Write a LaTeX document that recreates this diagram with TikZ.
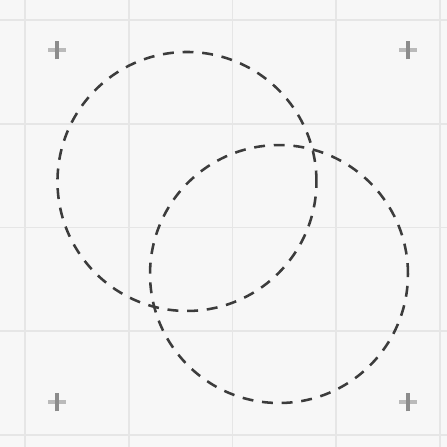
\documentclass[tikz,border=0pt]{standalone}
\usepackage{tikz}
\usepackage{xcolor}
\definecolor{bgfill}{HTML}{F7F7F7}
\definecolor{gridline}{HTML}{E6E6E6}
\definecolor{circline}{HTML}{3C3C3C}
\definecolor{markgray}{HTML}{8C8C8C}

\begin{document}
\begin{tikzpicture}[
    circ/.style={circline, line width=0.7pt, dash pattern=on 3pt off 2.4pt},
    markv/.style={markgray, line width=1.2pt},
    markh/.style={markgray!60, line width=0.9pt}]
  % background
  \fill[bgfill] (0,0) rectangle (4.308,4.308);
  \useasboundingbox (0,0) rectangle (4.308,4.308);
  % grid
  \draw[gridline, line width=0.45pt, step=1, shift={(0.241,0.116)}]
    (-0.241,-0.116) grid (4.067,4.192);
  % corner marks
  \foreach \x/\y in {0.549/3.827, 3.933/3.827, 0.549/0.434, 3.933/0.434}
  {
    \draw[markh] (\x-0.085,\y) -- (\x+0.085,\y);
    \draw[markv] (\x,\y-0.09) -- (\x,\y+0.09);
  }
  % circles
  \coordinate (upper) at (1.802,2.559);
  \coordinate (lower) at (2.689,1.667);
  \draw[circ] (upper) circle (1.248);
  \draw[circ] (lower) circle (1.243);
\end{tikzpicture}
\end{document}
